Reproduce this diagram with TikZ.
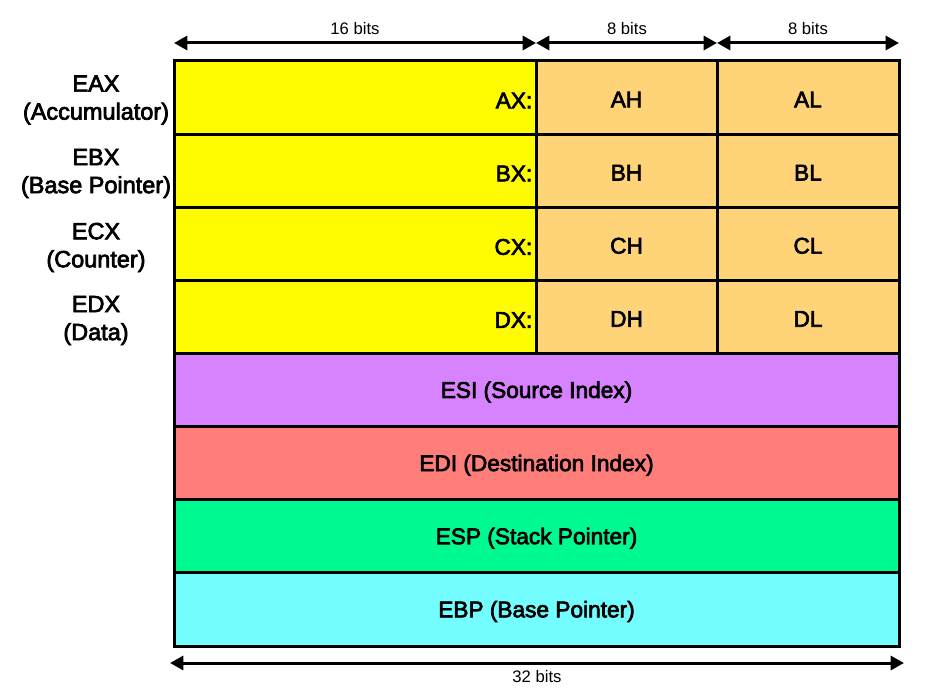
\documentclass[tikz,border=0pt]{standalone}
\usepackage{fontspec}
\setmainfont{Liberation Sans}
\newfontfamily\medfont{Liberation Sans}[FakeBold=3]
\usetikzlibrary{arrows.meta}

\definecolor{regyellow}{HTML}{FFFB00}
\definecolor{reghalf}{HTML}{FFD479}
\definecolor{regesi}{HTML}{D783FF}
\definecolor{regedi}{HTML}{FF7E79}
\definecolor{regesp}{HTML}{00FA92}
\definecolor{regebp}{HTML}{73FDFF}

\tikzset{
  cell/.style={draw=black, line width=2.25pt, inner sep=0pt, minimum height=54.84pt},
  wide/.style={cell, minimum width=271.5pt},
  half/.style={cell, minimum width=135.75pt, fill=reghalf},
  low/.style={cell, minimum width=136.5pt, fill=reghalf},
  full/.style={cell, minimum width=543.75pt},
  regname/.style={align=center, font=\medfont\fontsize{17.6}{21}\selectfont},
  cellname/.style={font=\medfont\fontsize{17}{20}\selectfont},
  bitsname/.style={font=\fontsize{12.5}{15}\selectfont},
  span/.style={line width=2.25pt, {Triangle[length=10pt,width=10.5pt]}-{Triangle[length=10pt,width=10.5pt]}}
}

\begin{document}
\begin{tikzpicture}[x=0.75pt,y=-0.75pt]
\useasboundingbox (0,0) rectangle (938,698);

% general purpose registers: 16-bit upper part, high byte, low byte
\node[wide, fill=regyellow] (eaxh) at (355,97.56) {};
\node[half] (ah) at (626.5,97.56) {};
\node[low]  (al) at (808,97.56) {};
\node[wide, fill=regyellow] (ebxh) at (355,170.69) {};
\node[half] (bh) at (626.5,170.69) {};
\node[low]  (bl) at (808,170.69) {};
\node[wide, fill=regyellow] (ecxh) at (355,243.81) {};
\node[half] (ch) at (626.5,243.81) {};
\node[low]  (cl) at (808,243.81) {};
\node[wide, fill=regyellow] (edxh) at (355,316.94) {};
\node[half] (dh) at (626.5,316.94) {};
\node[low]  (dl) at (808,316.94) {};

% index and pointer registers
\node[full, fill=regesi] (esi) at (536.5,390.06) {};
\node[full, fill=regedi] (edi) at (536.5,463.19) {};
\node[full, fill=regesp] (esp) at (536.5,536.31) {};
\node[full, fill=regebp] (ebp) at (536.5,609.44) {};

% cell texts
\node[cellname, anchor=east] (axl) at (537,100.5) {AX:};
\node[cellname] (ahl) at ([yshift=-1.5pt]ah) {AH};
\node[cellname] (all) at ([yshift=-1.5pt]al) {AL};
\node[cellname, anchor=east] (bxl) at (537,173.5) {BX:};
\node[cellname] (bhl) at ([yshift=-1.5pt]bh) {BH};
\node[cellname] (bll) at ([yshift=-1.5pt]bl) {BL};
\node[cellname, anchor=east] (cxl) at (537,247) {CX:};
\node[cellname] (chl) at ([yshift=-1.5pt]ch) {CH};
\node[cellname] (cll) at ([yshift=-1.5pt]cl) {CL};
\node[cellname, anchor=east] (dxl) at (537,320) {DX:};
\node[cellname] (dhl) at ([yshift=-1.5pt]dh) {DH};
\node[cellname] (dll) at ([yshift=-1.5pt]dl) {DL};
\node[cellname] (esil) at ([yshift=-1.5pt]esi) {ESI (Source Index)};
\node[cellname] (edil) at ([yshift=-1.5pt]edi) {EDI (Destination Index)};
\node[cellname] (espl) at ([yshift=-1.5pt]esp) {ESP (Stack Pointer)};
\node[cellname] (ebpl) at ([yshift=-1.5pt]ebp) {EBP (Base Pointer)};

% register names on the left
\node[regname] (eax) at (96,100) {EAX\\(Accumulator)};
\node[regname] (ebx) at (96,173.5) {EBX\\(Base Pointer)};
\node[regname] (ecx) at (96,247.5) {ECX\\(Counter)};
\node[regname] (edx) at (96,320.5) {EDX\\(Data)};

% bit widths
\coordinate (t0) at (174,43);
\coordinate (t1) at (536,43);
\coordinate (t2) at (717,43);
\coordinate (t3) at (899,43);
\draw[span] (t0) -- (t1);
\draw[span] (t1) -- (t2);
\draw[span] (t2) -- (t3);
\node[bitsname] (b16) at (355,29) {16 bits};
\node[bitsname] (b8h) at (627,29) {8 bits};
\node[bitsname] (b8l) at (808,29) {8 bits};

\coordinate (u0) at (170,663);
\coordinate (u1) at (904,663);
\draw[span] (u0) -- (u1);
\node[bitsname] (b32) at (537,677) {32 bits};
\end{tikzpicture}
\end{document}
